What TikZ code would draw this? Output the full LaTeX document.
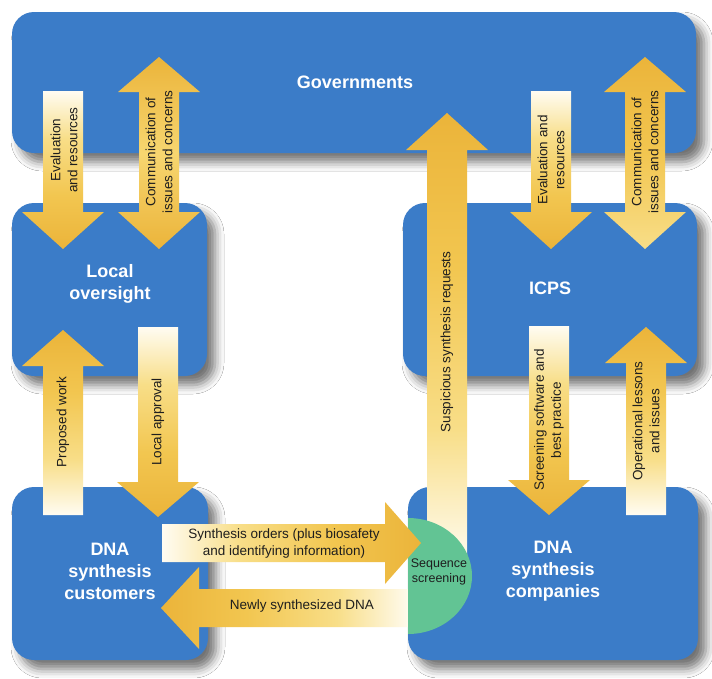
\documentclass[tikz,border=0pt]{standalone}
\usepackage{fontspec}
\setmainfont{Liberation Sans}
\usetikzlibrary{shadows.blur}
\definecolor{boxblue}{HTML}{3B7CC8}
\definecolor{seqgreen}{HTML}{62C494}
\definecolor{goldA}{HTML}{EBB43A}
\definecolor{goldB}{HTML}{F2C650}
\definecolor{goldC}{HTML}{F8DE88}
\definecolor{goldL}{HTML}{F7D670}
\definecolor{paleW}{HTML}{FFFCF2}
\definecolor{txt}{HTML}{1E1E1E}
\pgfdeclareverticalshading{tailfade}{100bp}{color(0bp)=(goldA); color(25bp)=(goldA); color(42bp)=(goldB); color(60bp)=(goldC); color(75bp)=(paleW); color(100bp)=(paleW)}
\pgfdeclareverticalshading{dblL}{100bp}{color(0bp)=(goldA); color(25bp)=(goldA); color(50bp)=(goldL); color(75bp)=(goldA); color(100bp)=(goldA)}
\pgfdeclareverticalshading{dblR}{100bp}{color(0bp)=(goldC); color(25bp)=(goldC); color(50bp)=(goldB); color(75bp)=(goldA); color(100bp)=(goldA)}
% vertical single block arrow: x, tail y, head base y, apex y, options
\newcommand\vblock[5]{\path[#5] (#1-20,#2) -- (#1+20,#2) -- (#1+20,#3) -- (#1+41,#3) -- (#1,#4) -- (#1-41,#3) -- (#1-20,#3) -- cycle;}
% vertical double block arrow: x, apex1, base1, base2, apex2, options
\newcommand\dblock[6]{\path[#6] (#1,#2) -- (#1+41,#3) -- (#1+20,#3) -- (#1+20,#4) -- (#1+41,#4) -- (#1,#5) -- (#1-41,#4) -- (#1-20,#4) -- (#1-20,#3) -- (#1-41,#3) -- cycle;}
% horizontal single block arrow: y, tail x, head base x, apex x, options
\newcommand\hblock[5]{\path[#5] (#2,#1-19) -- (#3,#1-19) -- (#3,#1-41) -- (#4,#1) -- (#3,#1+41) -- (#3,#1+19) -- (#2,#1+19) -- cycle;}
\begin{document}
\begin{tikzpicture}[x=1pt,y=-1pt,
  box/.style={fill=boxblue, rounded corners=22pt, inner sep=0pt,
    blur shadow={shadow xshift=8pt,shadow yshift=-9pt,shadow blur radius=9pt,shadow opacity=55}},
  boxtext/.style={text=white, font=\bfseries\fontsize{18}{22}\selectfont, align=center, inner sep=0pt},
  lbl/.style={font=\fontsize{13.5}{17}\selectfont, align=center, text=txt, inner sep=0pt},
  fadeshade/.style={shade, shading=tailfade},
]
\useasboundingbox (0,0) rectangle (712,678);
\fill[white] (0,0) rectangle (712,678);
% boxes
\node[box, minimum width=684pt, minimum height=141pt] (gov) at (354,82.5) {};
\node[box, minimum width=195pt, minimum height=173pt] (loc) at (109.5,289.5) {};
\node[box, minimum width=294pt, minimum height=173pt] (icps) at (550,289.5) {};
\node[box, minimum width=196pt, minimum height=173pt] (cust) at (110,573.5) {};
\node[box, minimum width=290pt, minimum height=173pt] (comp) at (553,573.5) {};
% block arrows
\vblock{63}{91}{212}{249}{fadeshade}
\dblock{159}{57}{92}{212}{249}{shade, shading=dblL}
\vblock{447}{565}{150}{113}{fadeshade, shading angle=180}
\vblock{551}{91}{212}{249}{fadeshade}
\dblock{645}{57}{92}{212}{249}{shade, shading=dblR}
\vblock{549}{326}{480}{515}{fadeshade}
\vblock{646}{515}{363}{327}{fadeshade, shading angle=180}
\vblock{63}{515}{366}{330}{fadeshade, shading angle=180}
\vblock{158}{327}{482}{517}{fadeshade}
\hblock{608}{412}{199}{161}{fadeshade, shading angle=-90}
% sequence screening half disc
\begin{scope}
\clip (408,500) rectangle (490,650);
\fill[seqgreen] (408,576) ellipse[x radius=64pt, y radius=58pt];
\end{scope}
\hblock{543}{162}{385}{421}{fadeshade, shading angle=90}
% box texts
\node[boxtext] (tgov) at (355,82) {Governments};
\node[boxtext] (tloc) at (110,284) {Local\\oversight};
\node[boxtext] (ticps) at (550,288) {ICPS};
\node[boxtext] (tcust) at (110,571) {DNA\\synthesis\\customers};
\node[boxtext] (tcomp) at (553,571) {DNA\\synthesis\\companies};
% arrow labels
\node[lbl, rotate=90] (tEval1) at (64,150) {Evaluation\\and resources};
\node[lbl, rotate=90] (tComm1) at (159,152) {Communication of\\issues and concerns};
\node[lbl, rotate=90] (tSusp) at (447,342) {Suspicious synthesis requests};
\node[lbl, rotate=90] (tEval2) at (551,160) {Evaluation and\\resources};
\node[lbl, rotate=90] (tComm2) at (645,152) {Communication of\\issues and concerns};
\node[lbl, rotate=90] (tScreen) at (549,420) {Screening software and\\best practice};
\node[lbl, rotate=90] (tOper) at (646,421) {Operational lessons\\and issues};
\node[lbl, rotate=90] (tProp) at (63,422) {Proposed work};
\node[lbl, rotate=90] (tAppr) at (158,422) {Local approval};
\node[lbl] (tOrders) at (284,543) {Synthesis orders (plus biosafety\\and identifying information)};
\node[lbl] (tNew) at (302,606) {Newly synthesized DNA};
\node[lbl, font=\fontsize{12.5}{15}\selectfont] (tSeq) at (439,572) {Sequence\\screening};
\end{tikzpicture}
\end{document}
